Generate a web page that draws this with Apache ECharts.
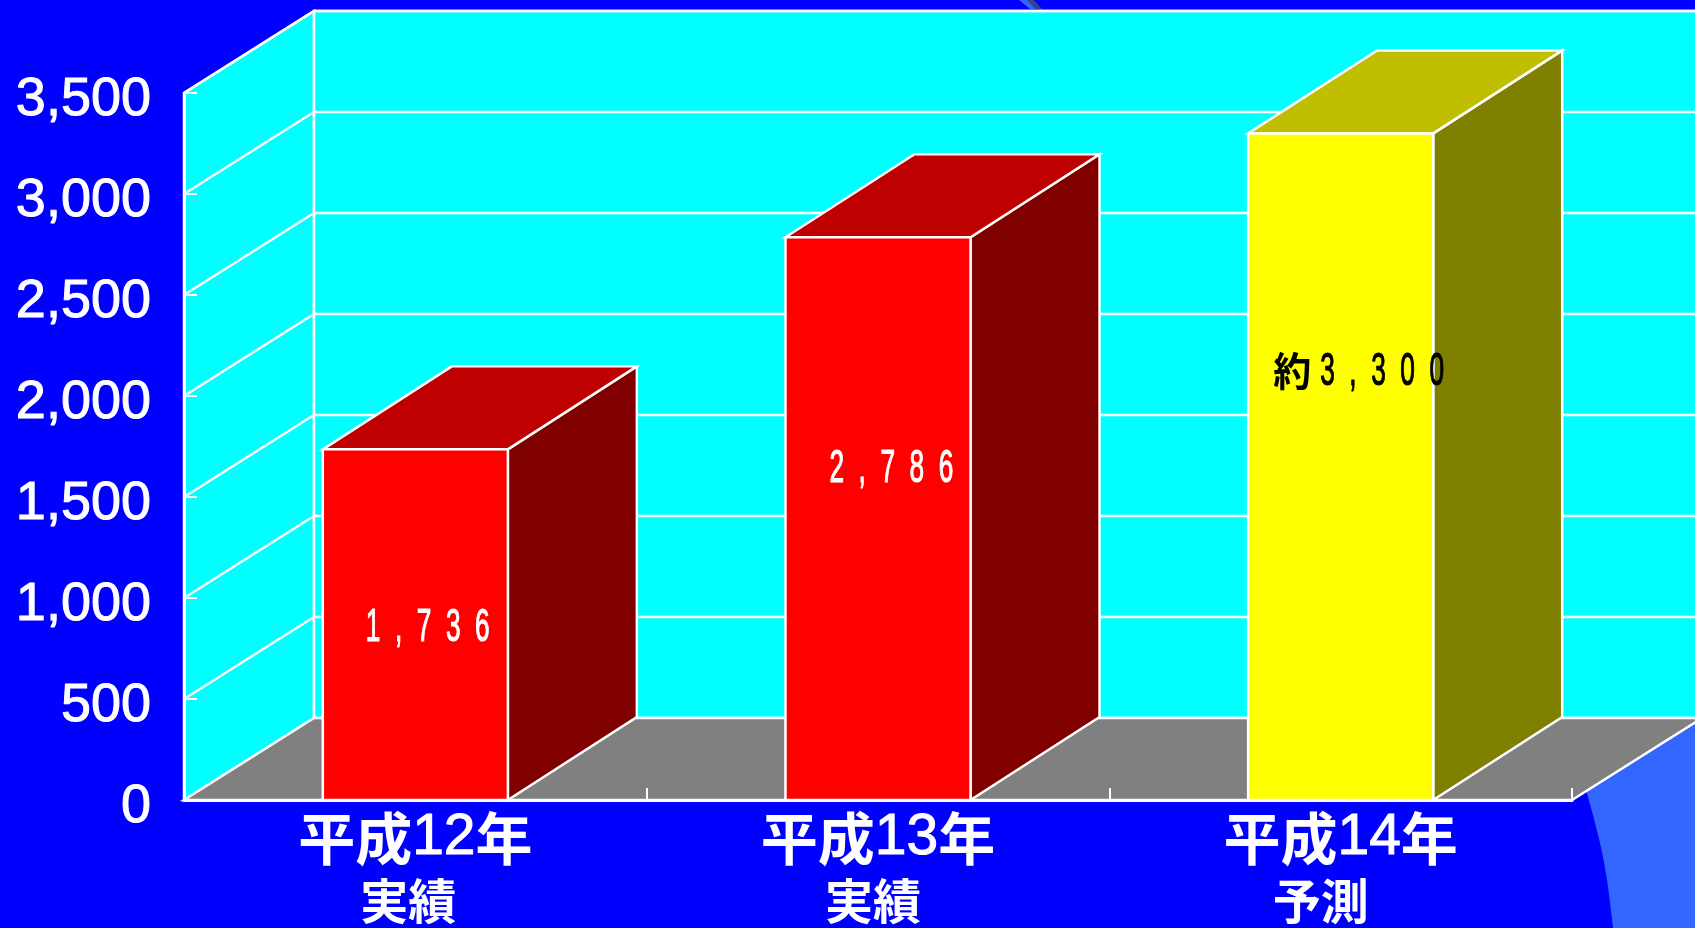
<!DOCTYPE html>
<html>
<head>
<meta charset="utf-8">
<style>
  html, body { margin: 0; padding: 0; background: #0000ff; }
  #main { width: 1695px; height: 928px; }
</style>
<script src="https://cdn.jsdelivr.net/npm/echarts@6/dist/echarts.min.js"></script>
</head>
<body>
<div id="main"></div>
<script>
// 数据
var categories = ['平成12年', '平成13年', '平成14年'];
var subLabels = ['実績', '実績', '予測'];
var values = [1736, 2786, 3300];
var labelPrefix = ['', '', '約'];
var yTicks = [0, 500, 1000, 1500, 2000, 2500, 3000, 3500];

// 立体の色と奥行き
var frontColors = ['#ff0000', '#ff0000', '#ffff00'];
var topColors = ['#bf0000', '#bf0000', '#bfbf00'];
var sideColors = ['#800000', '#800000', '#808000'];
var labelColors = ['#ffffff', '#ffffff', '#000000'];
var labelOffset = [[43, 179], [44, 232], [25, 239]]; // 棒の左上から
var wallDepth = [130, -82];
var barDepth = [129, -83];
var edgeWidth = 2.5;

function poly(points, fill) {
  return {
    type: 'polygon',
    shape: { points: points },
    style: { fill: fill, stroke: '#ffffff', lineWidth: edgeWidth }
  };
}

function renderWalls(params) {
  var c = params.coordSys;
  var l = c.x, r = c.x + c.width, t = c.y, b = c.y + c.height;
  var dx = wallDepth[0], dy = wallDepth[1];
  return {
    type: 'group',
    children: [
      poly([[l, b], [l, t], [l + dx, t + dy], [l + dx, b + dy]], '#00ffff'),
      poly([[l + dx, t + dy], [r + dx, t + dy], [r + dx, b + dy], [l + dx, b + dy]], '#00ffff'),
      poly([[l, b], [l + dx, b + dy], [r + dx, b + dy], [r, b]], '#808080')
    ]
  };
}

function renderGrid(params, api) {
  var c = params.coordSys;
  var p = api.coord([0, api.value(0)]);
  var l = c.x, y = p[1];
  var dx = wallDepth[0], dy = wallDepth[1];
  return {
    type: 'polyline',
    shape: { points: [[l, y], [l + dx, y + dy], [c.x + c.width + dx, y + dy]] },
    style: { fill: null, stroke: '#ffffff', lineWidth: edgeWidth }
  };
}

function renderBar(params, api) {
  var i = api.value(0);
  var v = api.value(1);
  var top = api.coord([i, v]);
  var base = api.coord([i, 0]);
  var w = api.size([1, 0])[0] * 0.4;
  var x0 = top[0] - w / 2, x1 = top[0] + w / 2;
  var yt = top[1], yb = base[1];
  var dx = barDepth[0], dy = barDepth[1];
  var lx = x0 + labelOffset[i][0], ly = yt + labelOffset[i][1];
  var prefix = labelPrefix[i];
  var text = v.toLocaleString('en-US').split('').join('  ');
  var children = [
    poly([[x1, yb], [x1, yt], [x1 + dx, yt + dy], [x1 + dx, yb + dy]], sideColors[i]),
    poly([[x0, yt], [x0 + dx, yt + dy], [x1 + dx, yt + dy], [x1, yt]], topColors[i]),
    poly([[x0, yb], [x0, yt], [x1, yt], [x1, yb]], frontColors[i])
  ];
  if (prefix) {
    children.push({
      type: 'text', x: lx, y: ly - 2, scaleX: 0.95,
      style: { text: prefix, fill: labelColors[i], fontSize: 40, fontWeight: 'bold',
        fontFamily: '"Noto Sans CJK JP"', verticalAlign: 'middle', align: 'left' }
    });
    lx += 47;
  }
  children.push({
    type: 'text', x: lx, y: ly, scaleX: 0.57,
    style: { text: text, fill: labelColors[i], stroke: labelColors[i], lineWidth: 1.2, fontSize: 46,
      fontFamily: '"Liberation Sans"', verticalAlign: 'middle', align: 'left' }
  });
  return { type: 'group', children: children };
}

var subStyle = { fontSize: 48, fontWeight: 'bold', fontFamily: '"Noto Sans CJK JP"', color: '#ffffff', lineHeight: 64 };

var myChart = echarts.init(document.getElementById('main'));
var option = {
  backgroundColor: '#0000ff',
  animation: false,
  // 背景の飾り
  graphic: [
    { type: 'polygon', z: 0, shape: { points: [[1586, 790], [1593, 815], [1600, 843], [1604, 862], [1607, 880], [1610, 902], [1613, 928], [1695, 928], [1695, 700]] },
      style: { fill: '#3366ff' } },
    { type: 'polygon', z: 0, shape: { points: [[1019, 0], [1030, 0], [1037, 9], [1030, 9]] },
      style: { fill: '#3366ff' } },
    { type: 'polygon', z: 0, shape: { points: [[1027, 0], [1034, 0], [1042, 9], [1035, 9]] },
      style: { fill: '#334488' } }
  ],
  grid: { left: 184, top: 93, width: 1388, height: 707 },
  xAxis: {
    type: 'category',
    data: categories,
    z: 5,
    axisLine: { lineStyle: { color: '#ffffff', width: 3 } },
    axisTick: { show: true, inside: true, length: 12, lineStyle: { color: '#ffffff', width: 2 } },
    axisLabel: {
      interval: 0,
      margin: 7,
      color: '#ffffff',
      formatter: function (value, index) {
        var head = value.replace(/(\d+)/, '}{d|$1}{c|');
        return '{c|' + head + '}\n{s' + index + '|' + subLabels[index] + '}';
      },
      rich: {
        c: { fontSize: 57, fontWeight: 'bold', fontFamily: '"Noto Sans CJK JP"', color: '#ffffff', lineHeight: 62 },
        d: { fontSize: 57, fontFamily: '"Liberation Sans"', color: '#ffffff', lineHeight: 62, textBorderColor: '#ffffff', textBorderWidth: 1 },
        s0: Object.assign({ padding: [0, 14, 0, 0] }, subStyle),
        s1: Object.assign({ padding: [0, 10, 0, 0] }, subStyle),
        s2: Object.assign({ padding: [0, 40, 0, 0] }, subStyle)
      }
    }
  },
  yAxis: {
    type: 'value',
    min: 0,
    max: 3500,
    interval: 500,
    z: 5,
    splitLine: { show: false },
    axisLine: { show: true, lineStyle: { color: '#ffffff', width: 3 } },
    axisTick: { show: true, inside: true, length: 13, lineStyle: { color: '#ffffff', width: 2 } },
    axisLabel: {
      margin: 33,
      color: '#ffffff',
      fontSize: 54,
      fontFamily: '"Liberation Sans"',
      textBorderColor: '#ffffff',
      textBorderWidth: 1,
      verticalAlign: 'top',
      lineHeight: 14,
      formatter: function (value) { return value.toLocaleString('en-US'); }
    }
  },
  series: [
    { type: 'custom', z: 1, silent: true, renderItem: renderWalls, data: [0] },
    { type: 'custom', z: 2, silent: true, renderItem: renderGrid, data: yTicks.slice(1), encode: { y: 0 } },
    {
      type: 'custom', z: 6, renderItem: renderBar,
      data: values.map(function (v, i) { return [i, v]; }),
      encode: { x: 0, y: 1 }
    }
  ]
};

myChart.setOption(option);
window.addEventListener('resize', function () {
  myChart.resize();
});
</script>
</body>
</html>
